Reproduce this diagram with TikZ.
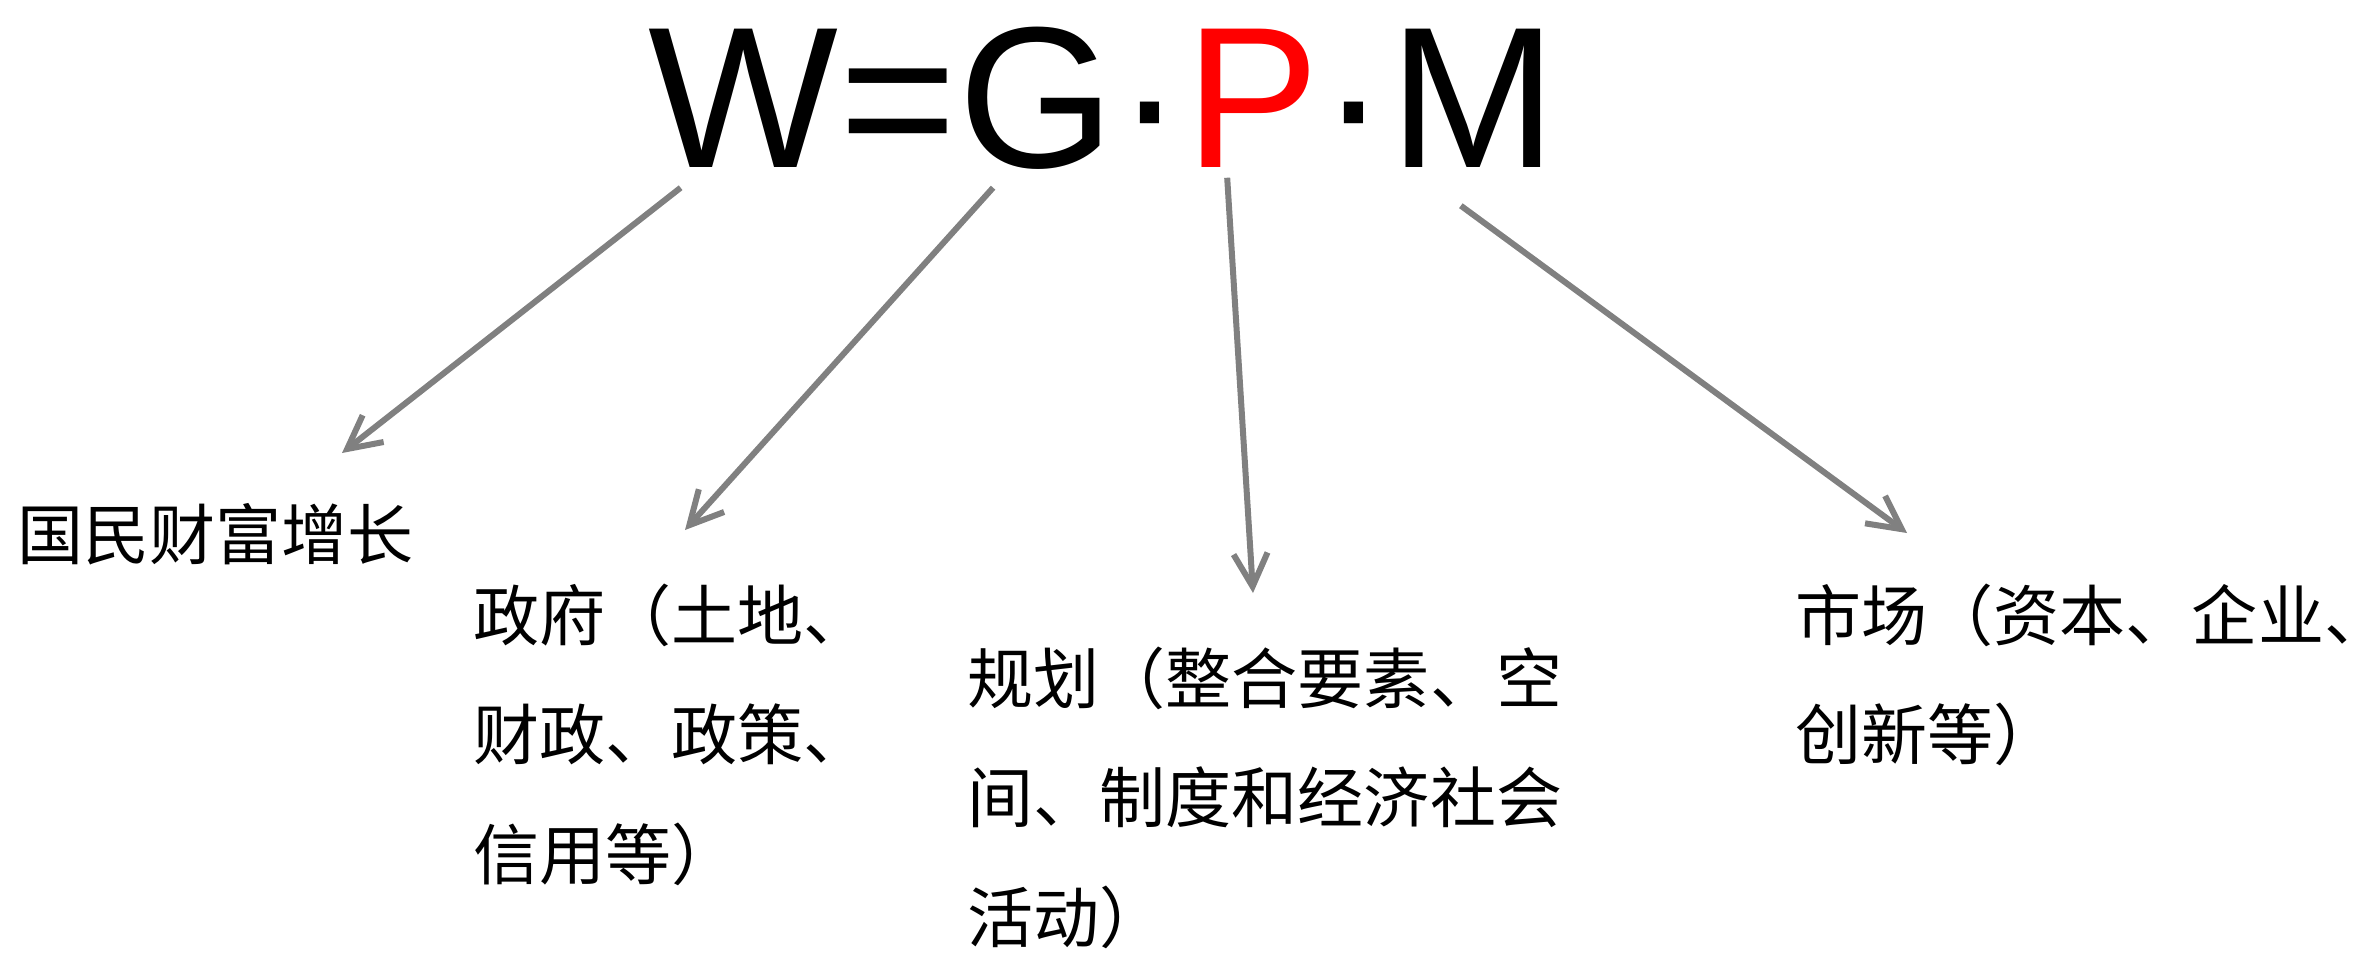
\documentclass[tikz,border=0pt]{standalone}
\usepackage{fontspec}
\usetikzlibrary{positioning,arrows.meta}
\newfontfamily\cjkfont{Noto Sans CJK SC}
\newfontfamily\formulafont{Liberation Sans}

\begin{document}
\begin{tikzpicture}
    [
        x=0.01cm, y=-0.01cm,
        letter/.style={inner sep=0pt, font=\formulafont\fontsize{57.2pt}{60pt}\selectfont},
        desc/.style={anchor=north west, inner sep=0pt, align=left, font=\cjkfont\fontsize{18.78pt}{34pt}\selectfont},
        arrow/.style={-{Straight Barb[length=0.33cm, width=0.34cm]}, line width=0.06cm, gray}
    ]
    \useasboundingbox (0,0) rectangle (2360,953);
    \clip (0,0) rectangle (2360,953);

    % Formula
    \node[letter, anchor=base west] (W) at (648,167) {W};
    \node[letter, base right=0pt of W] (eq) {=};
    \node[letter, base right=0pt of eq] (G) {G};
    \node[letter, base right=0pt of G] (dot1) {·};
    \node[letter, text=red, base right=0pt of dot1] (P) {P};
    \node[letter, base right=0pt of P] (dot2) {·};
    \node[letter, base right=0pt of dot2] (M) {M};

    % Texts
    \node[desc] (wealth) at (17,503) {国民财富增长};
    \node[desc] (gov) at (473,583) {政府（土地、\\财政、政策、\\信用等）};
    \node[desc] (plan) at (967,646) {规划（整合要素、空\\间、制度和经济社会\\活动）};
    \node[desc] (market) at (1795,583) {市场（资本、企业、\\创新等）};

    % Arrows
    \draw[arrow] ([shift={(-63,20)}]W.south) -- ([shift={(325,-50)}]wealth.north west);
    \draw[arrow] ([shift={(-44,18)}]G.south) -- ([shift={(212,-53)}]gov.north west);
    \draw[arrow] ([shift={(-25,10)}]P.south) -- ([shift={(286,-53)}]plan.north west);
    \draw[arrow] ([shift={(-12,38)}]M.south) -- ([shift={(112,-50)}]market.north west);
\end{tikzpicture}
\end{document}
